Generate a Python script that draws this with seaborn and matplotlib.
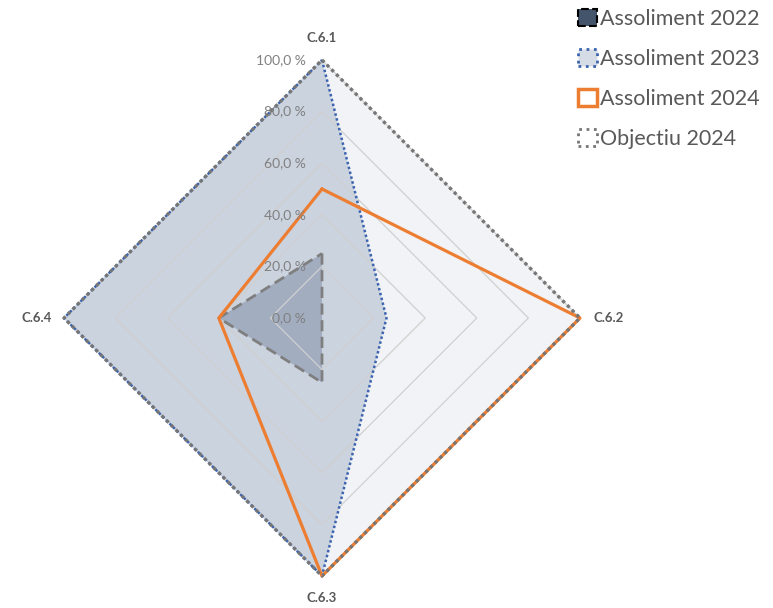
import numpy as np
import matplotlib
matplotlib.use("Agg")
import matplotlib.pyplot as plt
import matplotlib.transforms as mtrans
from matplotlib.patches import Patch
import seaborn as sns

categories = ["C.6.1", "C.6.2", "C.6.3", "C.6.4"]
assoliment_2022 = [25, 0, 25, 40]
assoliment_2023 = [100, 25, 100, 100]
assoliment_2024 = [50, 100, 100, 40]
objectiu_2024 = [100, 100, 100, 100]
tick_levels = [0, 20, 40, 60, 80, 100]
tick_labels = ["0,0 %", "20,0 %", "40,0 %", "60,0 %", "80,0 %", "100,0 %"]
series_names = ["Assoliment 2022", "Assoliment 2023", "Assoliment 2024", "Objectiu 2024"]

sns.set_theme(style="white")
plt.rcParams["font.family"] = ["Lato", "DejaVu Sans"]

W, H = 773, 608
fig = plt.figure(figsize=(W / 100, H / 100), dpi=100)
cx, cy, R = 322, 318, 258
ax = fig.add_axes([(cx - R) / W, (H - cy - R) / H, 2 * R / W, 2 * R / H], projection="polar")
ax.set_theta_zero_location("N")
ax.set_theta_direction(-1)
ax.set_ylim(0, 100)
ax.grid(False)
ax.set_xticks([])
ax.set_yticks([])
ax.spines["polar"].set_visible(False)
ax.set_facecolor("none")

n = len(categories)
theta = np.linspace(0, 2 * np.pi, n, endpoint=False)
theta_c = np.append(theta, 2 * np.pi)

def closed(v):
    return np.append(np.array(v, dtype=float), v[0])

# polygon grid
for lv in tick_levels[1:]:
    ax.plot(theta_c, closed([lv] * n), color="#D0D0D0", lw=0.9, zorder=1, clip_on=False)

# fills
ax.fill(theta_c, closed(objectiu_2024), color="#F2F3F6", zorder=0.5, lw=0)
ax.fill(theta_c, closed(assoliment_2023), color="#CBD3DF", zorder=0.6, lw=0)
ax.fill(theta_c, closed(assoliment_2022), color="#A2ADC0", zorder=0.7, lw=0)

# lines
sns.lineplot(x=theta_c, y=closed(assoliment_2022), sort=False, estimator=None, ax=ax,
             color="#7F7F7F", lw=2.0, linestyle=(0, (4, 2)), zorder=3, clip_on=False)
sns.lineplot(x=theta_c, y=closed(assoliment_2023), sort=False, estimator=None, ax=ax,
             color="#3C64AE", lw=1.8, linestyle=(0, (1, 1)), zorder=4, clip_on=False)
sns.lineplot(x=theta_c, y=closed(assoliment_2024), sort=False, estimator=None, ax=ax,
             color="#ED7D31", lw=2.3, zorder=5, clip_on=False)
sns.lineplot(x=theta_c, y=closed(objectiu_2024), sort=False, estimator=None, ax=ax,
             color="#767676", lw=2.4, linestyle=(0, (1, 1)), zorder=6, clip_on=False)
ax.set_ylim(0, 100)

# radial tick labels
off = mtrans.offset_copy(ax.transData, fig=fig, x=-16, y=0, units="dots")
for lv, lab in zip(tick_levels, tick_labels):
    ax.text(0, lv, lab, transform=off, ha="right", va="center", fontsize=10, color="#808080", zorder=7)

# category labels
offsets = [(0, 22, "center"), (13, 0, "left"), (0, -22, "center"), (-12, 0, "right")]
for t, lab, (dx, dy, ha) in zip(theta, categories, offsets):
    tr = mtrans.offset_copy(ax.transData, fig=fig, x=dx, y=dy, units="dots")
    ax.text(t, 100, lab, transform=tr, ha=ha, va="center", fontsize=9.5, fontweight="bold", color="#595959")

handles = [
    Patch(facecolor="#44546A", edgecolor="black", lw=1.5, linestyle="--"),
    Patch(facecolor="#D6DCE5", edgecolor="#3C64AE", lw=2, linestyle=":"),
    Patch(facecolor="white", edgecolor="#ED7D31", lw=2.5),
    Patch(facecolor="white", edgecolor="#767676", lw=2, linestyle=":"),
]
fig.legend(handles, series_names, loc="upper left", bbox_to_anchor=(574 / W, 1 - 5 / H),
           frameon=False, fontsize=15.5, labelcolor="#595959", handlelength=0.85, handleheight=0.85,
           handletextpad=0.15, labelspacing=0.92, borderaxespad=0, borderpad=0.2)

fig.savefig("out.png", dpi=100, facecolor="white")
